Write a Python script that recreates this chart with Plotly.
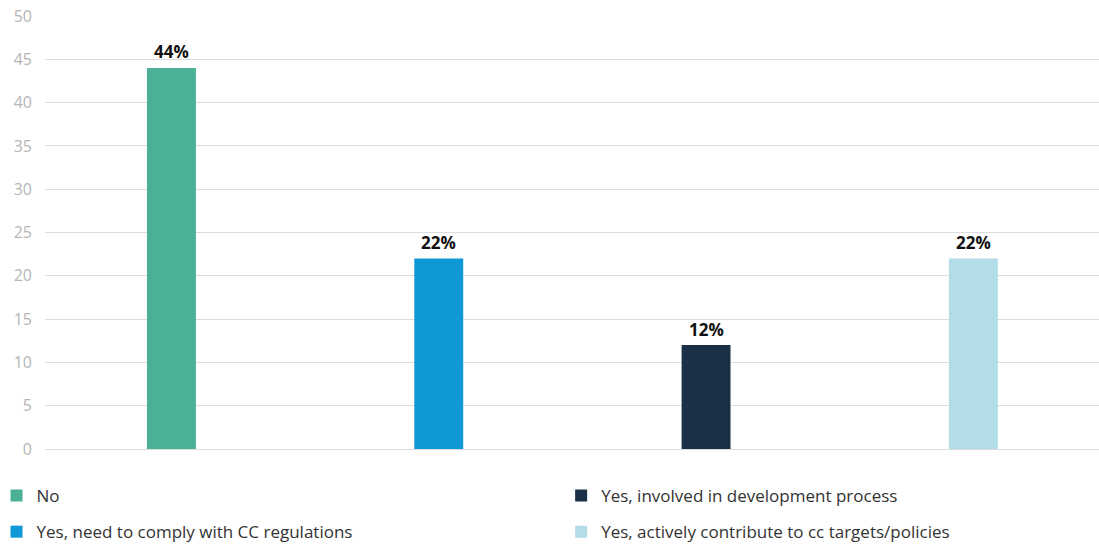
import plotly.graph_objects as go

categories = ["No", "Yes, need to comply with CC regulations",
              "Yes, involved in development process",
              "Yes, actively contribute to cc targets/policies"]
values = [44, 22, 12, 22]
labels = ["44%", "22%", "12%", "22%"]
colors = ["#4BB096", "#0E98D6", "#1B3047", "#B2DDE8"]
legend_ids = ["legend", "legend", "legend2", "legend2"]
y_ticks = [0, 5, 10, 15, 20, 25, 30, 35, 40, 45, 50]

fig = go.Figure()
for i, (cat, v, c, lg) in enumerate(zip(categories, values, colors, legend_ids)):
    fig.add_trace(go.Bar(
        x=[i], y=[v], name=cat, marker=dict(color=c, line=dict(width=0)),
        width=0.183, legend=lg, legendgroup=cat, hoverinfo="skip",
    ))
    fig.add_annotation(x=i, y=v, text=f"<b>{labels[i]}</b>", showarrow=False,
                       yanchor="middle", yshift=16,
                       font=dict(family="Open Sans", size=17, color="#111111"))

fig.update_layout(
    width=1099, height=544,
    margin=dict(l=45, r=0, t=16, b=95, autoexpand=False),
    plot_bgcolor="white", paper_bgcolor="white",
    barmode="overlay",
    showlegend=True,
    xaxis=dict(range=[-0.473, 3.47], showticklabels=False, showgrid=False,
               zeroline=False, showline=False, ticks=""),
    yaxis=dict(range=[0, 50], tickvals=y_ticks, showgrid=True, gridcolor="#DCDCDC",
               gridwidth=1, zeroline=True, zerolinecolor="#DCDCDC", zerolinewidth=1,
               showline=False, ticks="", ticklabelstandoff=12,
               tickfont=dict(family="Open Sans", size=16, color="#B5B5B5")),
    legend=dict(x=-0.046, y=-0.067, xanchor="left", yanchor="top", orientation="v",
                tracegroupgap=11, font=dict(family="Open Sans", size=17, color="#333333"),
                itemwidth=30, bgcolor="rgba(0,0,0,0)"),
    legend2=dict(x=0.4897, y=-0.067, xanchor="left", yanchor="top", orientation="v",
                 tracegroupgap=11, font=dict(family="Open Sans", size=17, color="#333333"),
                 itemwidth=30, bgcolor="rgba(0,0,0,0)"),
)

fig.write_html("out.html")
